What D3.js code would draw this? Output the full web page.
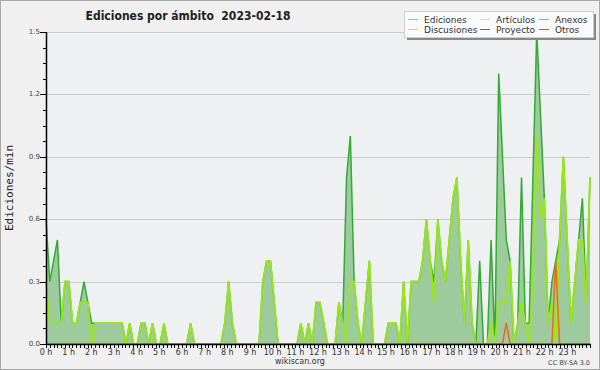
<!DOCTYPE html>
<html>
<head>
<meta charset="utf-8">
<script src="https://cdn.jsdelivr.net/npm/d3@7"></script>
<style>
	body { margin: 0; background: #fff; }
	svg { display: block; }
	text { font-family: 'DejaVu Sans', sans-serif; fill: #222; }
</style>
</head>
<body>
<div id="chart"></div>
<script>

// edits per minute, one value every 10 minutes (00:00 .. 23:50)
const ediciones = [
	0.6, 0.3, 0.4, 0.5, 0.1, 0.3, 0.3, 0.1, 0.1, 0.2, 0.3, 0.2,
	0.1, 0.1, 0.1, 0.1, 0.1, 0.1, 0.1, 0.1, 0.1, 0, 0.1, 0,
	0, 0.1, 0.1, 0, 0.1, 0, 0, 0.1, 0, 0, 0, 0,
	0, 0, 0.1, 0, 0, 0, 0, 0, 0, 0, 0, 0.1,
	0.3, 0.1, 0, 0, 0, 0, 0, 0, 0, 0.3, 0.4, 0.4,
	0.2, 0, 0, 0, 0, 0, 0, 0.1, 0, 0.1, 0, 0.2,
	0.2, 0.1, 0, 0, 0, 0.2, 0.1, 0.8, 1.0, 0.3, 0.1, 0,
	0.2, 0.4, 0, 0, 0, 0, 0.1, 0.1, 0.1, 0, 0.3, 0,
	0.3, 0.3, 0.3, 0.4, 0.6, 0.4, 0.3, 0.6, 0.4, 0.3, 0.5, 0.7,
	0.8, 0.4, 0.1, 0.5, 0.1, 0, 0.4, 0, 0, 0.5, 0, 1.3,
	0.9, 0.5, 0.4, 0, 0.1, 0.8, 0.1, 0.1, 0.8, 1.5, 1.1, 0.7,
	0.1, 0.3, 0.4, 0.5, 0.9, 0.5, 0.1, 0.3, 0.5, 0.7, 0.2, 0.8
]

const articulos = [
	0.3, 0.1, 0.1, 0.1, 0.1, 0.3, 0.3, 0.1, 0.1, 0.2, 0.2, 0.2,
	0, 0.1, 0.1, 0.1, 0.1, 0.1, 0.1, 0.1, 0.1, 0, 0.1, 0,
	0, 0.1, 0.1, 0, 0.1, 0, 0, 0.1, 0, 0, 0, 0,
	0, 0, 0.1, 0, 0, 0, 0, 0, 0, 0, 0, 0.1,
	0.3, 0.1, 0, 0, 0, 0, 0, 0, 0, 0.3, 0.4, 0.4,
	0.2, 0, 0, 0, 0, 0, 0, 0.1, 0, 0.1, 0, 0.2,
	0.2, 0.1, 0, 0, 0, 0.2, 0.1, 0, 0.3, 0.3, 0.1, 0,
	0.2, 0.4, 0, 0, 0, 0, 0.1, 0.1, 0.1, 0, 0.3, 0,
	0.3, 0.3, 0.3, 0.4, 0.6, 0.4, 0.2, 0.6, 0.4, 0.3, 0.5, 0.7,
	0.8, 0.4, 0.1, 0.5, 0.1, 0, 0, 0, 0, 0.1, 0, 0.2,
	0.2, 0.2, 0.4, 0, 0.1, 0.2, 0.1, 0, 0.3, 1.0, 0.6, 0.7,
	0.1, 0.2, 0, 0.5, 0.9, 0.5, 0.1, 0.3, 0.5, 0.5, 0.2, 0.8
]

const anexos = [
	0, 0, 0, 0, 0, 0, 0, 0, 0, 0, 0, 0,
	0, 0, 0, 0, 0, 0, 0, 0, 0, 0, 0, 0,
	0, 0, 0, 0, 0, 0, 0, 0, 0, 0, 0, 0,
	0, 0, 0, 0, 0, 0, 0, 0, 0, 0, 0, 0,
	0, 0, 0, 0, 0, 0, 0, 0, 0, 0, 0, 0,
	0, 0, 0, 0, 0, 0, 0, 0, 0, 0, 0, 0,
	0, 0, 0, 0, 0, 0, 0, 0, 0, 0, 0, 0,
	0, 0, 0, 0, 0, 0, 0, 0, 0, 0, 0, 0,
	0, 0, 0, 0, 0, 0, 0, 0, 0, 0, 0, 0,
	0, 0, 0, 0, 0, 0, 0, 0, 0, 0, 0, 0,
	0, 0.1, 0, 0, 0, 0, 0, 0, 0, 0, 0, 0,
	0, 0, 0.4, 0, 0, 0, 0, 0, 0, 0, 0, 0
]

const hourLabels = ['0 h', '1 h', '2 h', '3 h', '4 h', '5 h', '6 h', '7 h', '8 h', '9 h', '10 h', '11 h',
	'12 h', '13 h', '14 h', '15 h', '16 h', '17 h', '18 h', '19 h', '20 h', '21 h', '22 h', '23 h']

const yTicks = [0, 0.3, 0.6, 0.9, 1.2, 1.5]

const legendItems = [
	{ name: 'Ediciones', color: '#88cc88' },
	{ name: 'Artículos', color: '#ccee55' },
	{ name: 'Anexos', color: '#ee8855' },
	{ name: 'Discusiones', color: '#ffcc44' },
	{ name: 'Proyecto', color: '#666666' },
	{ name: 'Otros', color: '#9955ee' }
]

const title = 'Ediciones por ámbito  2023-02-18'

function drawChart() {

	let width = 600
	let height = 370
	let plot = { left: 46, right: 590, top: 32, bottom: 344 }

	const svg = d3.select('#chart').append('svg')
		.attr('width', width)
		.attr('height', height)

	// page background and frame
	svg.append('rect')
		.attr('x', 0.5).attr('y', 0.5)
		.attr('width', width - 1).attr('height', height - 1)
		.attr('fill', '#f0f0f0')
		.attr('stroke', '#a8a8a8')

	// plot background
	svg.append('rect')
		.attr('x', plot.left).attr('y', plot.top)
		.attr('width', plot.right - plot.left).attr('height', plot.bottom - plot.top)
		.attr('fill', '#eef0f2')

	// scales: data points span the whole width, axis counts minutes of the day
	const x = d3.scaleLinear().domain([0, ediciones.length - 1]).range([plot.left, plot.right])
	const xTime = d3.scaleLinear().domain([0, 1440]).range([plot.left, plot.right])
	const y = d3.scaleLinear().domain([0, 1.5]).range([plot.bottom, plot.top])

	// horizontal grid
	svg.append('g')
		.selectAll('line')
		.data(yTicks.filter(d => d > 0))
		.enter()
		.append('line')
		.attr('x1', plot.left).attr('x2', plot.right)
		.attr('y1', d => Math.round(y(d)) + 0.5).attr('y2', d => Math.round(y(d)) + 0.5)
		.attr('stroke', '#cccccc')

	// total edits as a filled area
	const area = d3.area()
		.x((d, i) => x(i))
		.y0(y(0))
		.y1(d => y(d))

	const line = d3.line()
		.x((d, i) => x(i))
		.y(d => y(d))

	svg.append('path')
		.datum(ediciones)
		.attr('d', area)
		.attr('fill', '#9dcb9d')

	svg.append('path')
		.datum(ediciones)
		.attr('d', line)
		.attr('fill', 'none')
		.attr('stroke', '#33aa33')
		.attr('stroke-width', 1.5)

	svg.append('path')
		.datum(articulos)
		.attr('d', line)
		.attr('fill', 'none')
		.attr('stroke', '#99e61a')
		.attr('stroke-width', 1.8)

	svg.append('path')
		.datum(anexos)
		.attr('d', line)
		.attr('fill', 'none')
		.attr('stroke', '#ee6622')
		.attr('stroke-width', 1.5)

	// y axis
	const yAxis = svg.append('g')

	yAxis.selectAll('.minor')
		.data(d3.range(0, 21).map(d => d * 0.075))
		.enter()
		.append('line')
		.attr('x1', plot.left - 3).attr('x2', plot.left)
		.attr('y1', d => Math.round(y(d)) + 0.5).attr('y2', d => Math.round(y(d)) + 0.5)
		.attr('stroke', '#000')

	yAxis.selectAll('.major')
		.data(yTicks)
		.enter()
		.append('line')
		.attr('x1', plot.left - 6).attr('x2', plot.left)
		.attr('y1', d => Math.round(y(d)) + 0.5).attr('y2', d => Math.round(y(d)) + 0.5)
		.attr('stroke', '#000')

	yAxis.selectAll('text')
		.data(yTicks)
		.enter()
		.append('text')
		.attr('x', plot.left - 6)
		.attr('y', d => y(d) + 2)
		.attr('text-anchor', 'end')
		.style('font-size', '7px')
		.style('fill', '#444')
		.text(d => d3.format('.1f')(d))

	yAxis.append('line')
		.attr('x1', plot.left + 0.5).attr('x2', plot.left + 0.5)
		.attr('y1', plot.top).attr('y2', plot.bottom)
		.attr('stroke', '#000')
		.attr('stroke-width', 1.5)

	// x axis, one tick every 10 minutes
	const xAxis = svg.append('g')

	xAxis.selectAll('line')
		.data(d3.range(0, 1441, 10))
		.enter()
		.append('line')
		.attr('x1', d => Math.round(xTime(d)) + 0.5).attr('x2', d => Math.round(xTime(d)) + 0.5)
		.attr('y1', plot.bottom).attr('y2', plot.bottom + 4)
		.attr('stroke', '#000')

	xAxis.append('line')
		.attr('x1', plot.left).attr('x2', plot.right + 1)
		.attr('y1', plot.bottom + 0.5).attr('y2', plot.bottom + 0.5)
		.attr('stroke', '#000')
		.attr('stroke-width', 1.5)

	xAxis.selectAll('text')
		.data(hourLabels)
		.enter()
		.append('text')
		.attr('x', (d, i) => xTime(i * 60))
		.attr('y', plot.bottom + 11)
		.attr('text-anchor', 'middle')
		.style('font-size', '8px')
		.style('fill', '#333')
		.text(d => d)

	// axis title
	svg.append('text')
		.attr('transform', `translate(13, ${(plot.top + plot.bottom) / 2}) rotate(-90)`)
		.attr('text-anchor', 'middle')
		.style('font-family', 'DejaVu Sans Mono, monospace')
		.style('font-size', '11px')
		.text('Ediciones/min')

	// title, keeps the double space before the date
	svg.append('text')
		.attr('x', 188)
		.attr('y', 20)
		.attr('text-anchor', 'middle')
		.style('font-size', '12px')
		.style('font-weight', 'bold')
		.style('font-stretch', 'condensed')
		.style('white-space', 'pre')
		.text(title)

	// footer
	svg.append('text')
		.attr('x', 300)
		.attr('y', 364)
		.attr('text-anchor', 'middle')
		.style('font-size', '8px')
		.style('fill', '#333')
		.text('wikiscan.org')

	svg.append('text')
		.attr('x', 590)
		.attr('y', 365)
		.attr('text-anchor', 'end')
		.style('font-size', '6.5px')
		.style('fill', '#444')
		.text('CC BY-SA 3.0')

	// legend box with shadow
	const legend = svg.append('g')

	legend.append('rect')
		.attr('x', 407).attr('y', 14)
		.attr('width', 189).attr('height', 26)
		.attr('fill', '#888')

	legend.append('rect')
		.attr('x', 404.5).attr('y', 11.5)
		.attr('width', 189).attr('height', 26)
		.attr('fill', '#fbfbfb')
		.attr('stroke', '#cfcfcf')

	let cols = [408, 480, 539]
	let rows = [19.5, 29.5]

	let item = legend.selectAll('.item')
		.data(legendItems)
		.enter()
		.append('g')
		.attr('transform', (d, i) => `translate(${cols[i % 3]}, ${rows[Math.floor(i / 3)]})`)

	item.append('line')
		.attr('x1', 0).attr('x2', 10)
		.attr('stroke', d => d.color)
		.attr('stroke-width', 1)

	item.append('text')
		.attr('x', 16)
		.attr('y', 3)
		.style('font-size', '9px')
		.style('fill', '#333')
		.text(d => d.name)
}

drawChart()

</script>
</body>
</html>
